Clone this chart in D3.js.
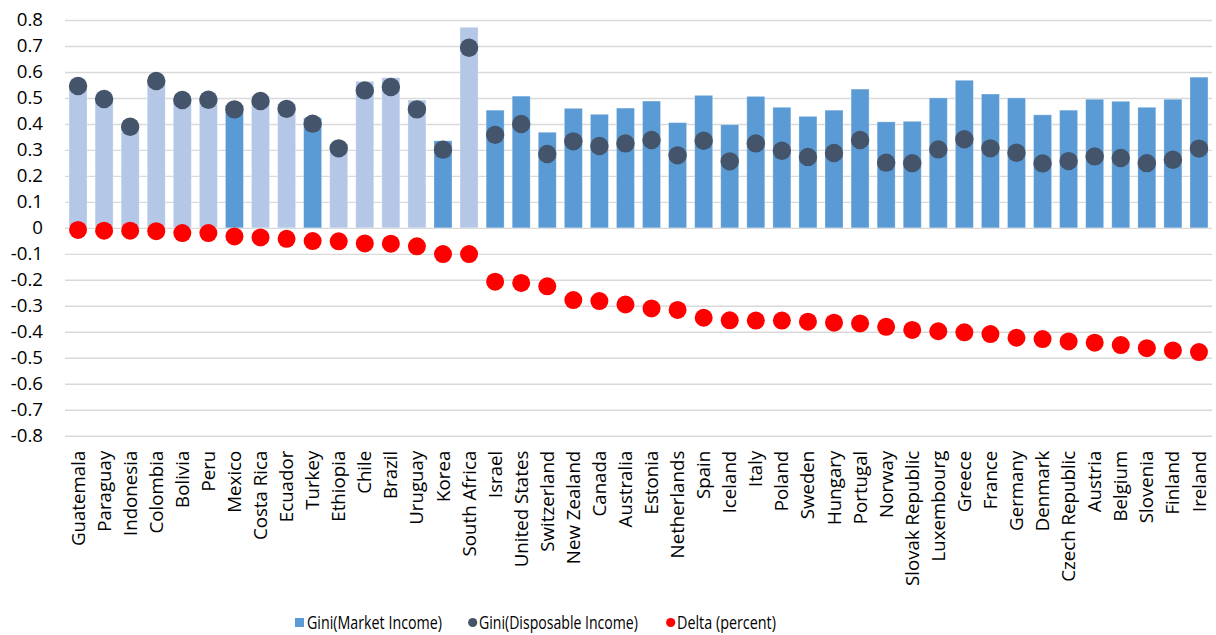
<!DOCTYPE html>
<html>
<head>
<meta charset="utf-8">
<script src="https://cdn.jsdelivr.net/npm/d3@7/dist/d3.min.js"></script>
<style>
  html, body { margin: 0; padding: 0; background: #fff; }
  svg { display: block; font-family: "Open Sans", sans-serif; }
</style>
</head>
<body>
<svg id="chart" width="1216" height="635"></svg>
<script>
// Countries, ordered by the size of the redistribution effect
const countries = [
  "Guatemala", "Paraguay", "Indonesia", "Colombia", "Bolivia", "Peru", "Mexico",
  "Costa Rica", "Ecuador", "Turkey", "Ethiopia", "Chile", "Brazil", "Uruguay",
  "Korea", "South Africa", "Israel", "United States", "Switzerland", "New Zealand",
  "Canada", "Australia", "Estonia", "Netherlands", "Spain", "Iceland", "Italy",
  "Poland", "Sweden", "Hungary", "Portugal", "Norway", "Slovak Republic",
  "Luxembourg", "Greece", "France", "Germany", "Denmark", "Czech Republic",
  "Austria", "Belgium", "Slovenia", "Finland", "Ireland"
];

// Data source group for each country's bar
const sourceGroup = [
  "CEQ", "CEQ", "CEQ", "CEQ", "CEQ", "CEQ", "OECD",
  "CEQ", "CEQ", "OECD", "CEQ", "CEQ", "CEQ", "CEQ",
  "OECD", "CEQ", "OECD", "OECD", "OECD", "OECD",
  "OECD", "OECD", "OECD", "OECD", "OECD", "OECD", "OECD",
  "OECD", "OECD", "OECD", "OECD", "OECD", "OECD",
  "OECD", "OECD", "OECD", "OECD", "OECD", "OECD",
  "OECD", "OECD", "OECD", "OECD", "OECD"
];

// Gini coefficient of market income
const giniMarket = [
  0.551, 0.501, 0.394, 0.572, 0.502, 0.503, 0.472,
  0.507, 0.478, 0.423, 0.323, 0.564, 0.578, 0.492,
  0.335, 0.772, 0.453, 0.507, 0.368, 0.460,
  0.437, 0.461, 0.488, 0.405, 0.510, 0.397, 0.506,
  0.464, 0.429, 0.453, 0.534, 0.408, 0.410,
  0.500, 0.568, 0.515, 0.500, 0.435, 0.453,
  0.495, 0.487, 0.464, 0.495, 0.580
];

// Gini coefficient of disposable income
const giniDisposable = [
  0.546, 0.496, 0.389, 0.565, 0.492, 0.493, 0.456,
  0.488, 0.458, 0.401, 0.306, 0.529, 0.542, 0.456,
  0.301, 0.693, 0.358, 0.400, 0.284, 0.333,
  0.315, 0.325, 0.338, 0.279, 0.335, 0.256, 0.325,
  0.297, 0.273, 0.288, 0.338, 0.251, 0.249,
  0.302, 0.341, 0.306, 0.289, 0.248, 0.257,
  0.275, 0.269, 0.249, 0.262, 0.305
];

// Relative change from market to disposable Gini
const deltaPercent = [
  -0.008, -0.011, -0.011, -0.013, -0.020, -0.020, -0.033,
  -0.037, -0.042, -0.051, -0.052, -0.060, -0.061, -0.071,
  -0.101, -0.101, -0.207, -0.212, -0.225, -0.278,
  -0.282, -0.295, -0.310, -0.316, -0.346, -0.356, -0.357,
  -0.357, -0.361, -0.365, -0.368, -0.381, -0.393,
  -0.398, -0.402, -0.409, -0.423, -0.428, -0.437,
  -0.442, -0.451, -0.463, -0.472, -0.478
];

const tickLabels = ["-0.8", "-0.7", "-0.6", "-0.5", "-0.4", "-0.3", "-0.2", "-0.1",
  "0", "0.1", "0.2", "0.3", "0.4", "0.5", "0.6", "0.7", "0.8"];

const seriesNames = ["Gini(Market Income)", "Gini(Disposable Income)", "Delta (percent)"];

const rows = countries.map((c, i) => ({
  country: c,
  group: sourceGroup[i],
  market: giniMarket[i],
  disposable: giniDisposable[i],
  delta: deltaPercent[i]
}));

const svg = d3.select("#chart");
const plot = { left: 65, right: 1212, top: 20, bottom: 435.7 };
const labelFont = 18.7;

const x = d3.scaleBand()
  .domain(countries)
  .range([plot.left, plot.right])
  .paddingInner(0.31)
  .paddingOuter(0.155);

const y = d3.scaleLinear()
  .domain([-0.8, 0.8])
  .range([plot.bottom, plot.top]);

const barColor = d3.scaleOrdinal()
  .domain(["CEQ", "OECD"])
  .range(["#B4C7E7", "#5B9BD5"]);

const colMarket = "#5B9BD5";
const colDisposable = "#44546A";
const colDelta = "#FF0000";

// Horizontal gridlines with tick labels on the left
const tickValues = tickLabels.map(Number);
const yAxis = d3.axisLeft(y)
  .tickValues(tickValues)
  .tickSize(-(plot.right - plot.left))
  .tickPadding(22)
  .tickFormat((d, i) => tickLabels[i]);

const gy = svg.append("g")
  .attr("transform", `translate(${plot.left},0)`)
  .call(yAxis);
gy.select(".domain").remove();
gy.selectAll(".tick line")
  .attr("stroke", "#D9D9D9")
  .attr("stroke-width", 1.4);
gy.selectAll(".tick text")
  .attr("fill", "#000")
  .attr("font-size", labelFont)
  .attr("font-family", "'Open Sans', sans-serif");

// Market income bars
svg.append("g").selectAll("rect")
  .data(rows)
  .join("rect")
  .attr("x", d => x(d.country))
  .attr("width", x.bandwidth())
  .attr("y", d => y(d.market))
  .attr("height", d => y(0) - y(d.market))
  .attr("fill", d => barColor(d.group))
  .attr("stroke", "#ffffff")
  .attr("stroke-opacity", 0.35)
  .attr("stroke-width", 0.8);

// Disposable income markers
svg.append("g").selectAll("circle")
  .data(rows)
  .join("circle")
  .attr("cx", d => x(d.country) + x.bandwidth() / 2)
  .attr("cy", d => y(d.disposable))
  .attr("r", 9.2)
  .attr("fill", colDisposable);

// Delta markers
svg.append("g").selectAll("circle")
  .data(rows)
  .join("circle")
  .attr("cx", d => x(d.country) + x.bandwidth() / 2)
  .attr("cy", d => y(d.delta))
  .attr("r", 9)
  .attr("fill", colDelta);

// Country labels, rotated, below the plot
const xAxis = d3.axisBottom(x).tickSize(0).tickPadding(0);
const gx = svg.append("g")
  .attr("transform", `translate(0,${plot.bottom})`)
  .call(xAxis);
gx.select(".domain").remove();
gx.selectAll(".tick text")
  .attr("fill", "#000")
  .attr("font-size", labelFont)
  .attr("font-family", "'Open Sans', sans-serif")
  .attr("text-anchor", "end")
  .attr("dy", "0.35em")
  .attr("transform", "translate(0,15) rotate(-90)")
  .attr("x", 0)
  .attr("y", 0);

// Legend: condensed labels, each squeezed to its slot width
const legend = svg.append("g").attr("transform", "translate(0,622.5)");
const legendItems = [
  { name: seriesNames[0], shape: "rect", color: colMarket, mx: 299.5, tx: 307, w: 135 },
  { name: seriesNames[1], shape: "circle", color: colDisposable, mx: 472.7, tx: 479, w: 159 },
  { name: seriesNames[2], shape: "circle", color: colDelta, mx: 670.7, tx: 677, w: 99 }
];
legendItems.forEach(it => {
  if (it.shape === "rect") {
    legend.append("rect")
      .attr("x", it.mx - 4.5).attr("y", -4.5)
      .attr("width", 9).attr("height", 9)
      .attr("fill", it.color);
  } else {
    legend.append("circle")
      .attr("cx", it.mx).attr("cy", 0).attr("r", 4.6)
      .attr("fill", it.color);
  }
  const g = legend.append("g");
  const t = g.append("text")
    .attr("x", 0)
    .attr("y", 0)
    .attr("dy", "0.36em")
    .attr("font-size", 19)
    .attr("fill", "#000")
    .text(it.name);
  const natural = t.node().getComputedTextLength();
  g.attr("transform", `translate(${it.tx},0) scale(${it.w / natural},1)`);
});
</script>
</body>
</html>
